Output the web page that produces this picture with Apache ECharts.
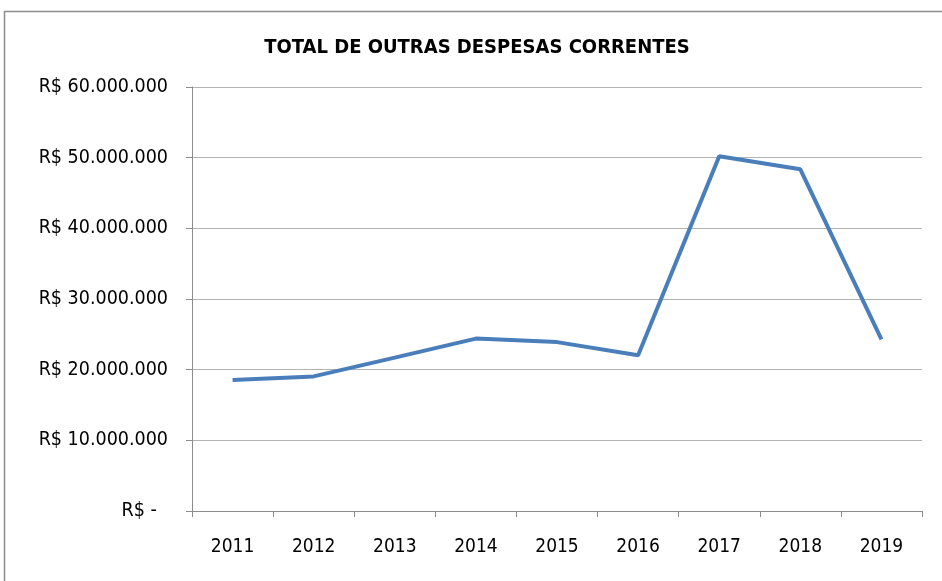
<!DOCTYPE html>
<html><head><meta charset="utf-8">
<script src="https://cdn.jsdelivr.net/npm/echarts@6/dist/echarts.min.js"></script>
<style>html,body{margin:0;padding:0;background:#fff}#c{width:942px;height:581px}</style>
</head><body><div id="c"></div>
<script>
const categories = ['2011','2012','2013','2014','2015','2016','2017','2018','2019'];
const values = [18540000, 19050000, 21700000, 24400000, 23900000, 22050000, 50200000, 48350000, 24300000];
const titleText = 'TOTAL DE OUTRAS DESPESAS CORRENTES';
const yMax = 60000000, yStep = 10000000;

function fmt(v){
  if (v === 0) return 'R$ -  ';
  return 'R$ ' + String(Math.round(v)).replace(/\B(?=(\d{3})+(?!\d))/g, '.');
}
const FONT = '"DejaVu Sans Condensed", sans-serif';
const chart = echarts.init(document.getElementById('c'), null, {renderer:'canvas'});
chart.setOption({
  animation:false,
  backgroundColor:'#fff',
  title:{text:titleText, left:472, top:33, textAlign:'center',
    textStyle:{fontFamily:FONT, fontSize:20, fontWeight:'bold', color:'#000'}},
  graphic:[{type:'rect', shape:{x:4.5,y:11.5,width:1000,height:1000}, style:{fill:'none', stroke:'#8c8c8c', lineWidth:1.5}, silent:true}],
  grid:{left:192, right:20, top:87, bottom:70, containLabel:false},
  xAxis:{type:'category', data:categories, boundaryGap:true,
    axisLine:{lineStyle:{color:'#8c8c8c', width:1}},
    axisTick:{show:true, length:6, lineStyle:{color:'#8c8c8c'}},
    axisLabel:{fontFamily:FONT, fontSize:19, color:'#000', margin:27}},
  yAxis:{type:'value', min:0, max:yMax, interval:yStep,
    axisLine:{show:true, lineStyle:{color:'#8c8c8c', width:1}},
    axisTick:{show:true, length:6, lineStyle:{color:'#8c8c8c'}},
    splitLine:{lineStyle:{color:'#b3b3b3', width:1}},
    axisLabel:{fontFamily:FONT, fontSize:19.5, color:'#000', margin:24, formatter:fmt}},
  series:[{type:'line', data:values, symbol:'none', smooth:false,
    lineStyle:{color:'#4a7ebb', width:4}}]
});
</script></body></html>
